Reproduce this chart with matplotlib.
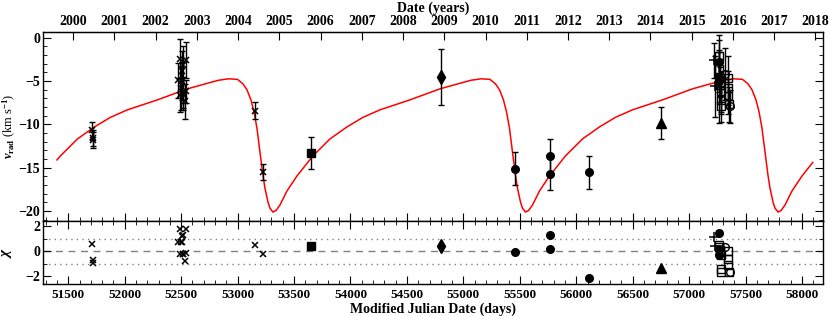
import numpy as np
import matplotlib.pyplot as plt
from matplotlib.ticker import MultipleLocator, FixedLocator

plt.rcParams['font.family'] = ['Liberation Serif', 'DejaVu Serif']
plt.rcParams['font.weight'] = 'bold'
plt.rcParams['mathtext.fontset'] = 'custom'
plt.rcParams['mathtext.rm'] = 'Liberation Serif:bold'
plt.rcParams['mathtext.it'] = 'Liberation Serif:italic:bold'

# orbital model curve (MJD, km/s)
model_mjd = [51400, 51430, 51581, 51732, 51873, 52024, 52290, 52555, 52715, 52830,
             52919, 52998, 53047, 53083, 53118, 53145, 53171, 53198, 53224, 53242,
             53269, 53286, 53313,
             53340, 53375, 53437, 53526, 53667, 53818, 53969, 54110, 54261, 54527,
             54792, 54952, 55067, 55156, 55235, 55284, 55320, 55355, 55382, 55408,
             55435, 55461, 55479, 55506, 55523, 55550,
             55577, 55612, 55674, 55763, 55904, 56055, 56206, 56347, 56498, 56764,
             57029, 57189, 57304, 57393, 57472, 57521, 57557, 57592, 57619, 57645,
             57672, 57698, 57716, 57743, 57760, 57787,
             57814, 57849, 57911, 58000, 58095]
model_v = [-14.10, -13.64, -11.68, -10.29, -9.19, -8.32, -7.17, -5.90, -5.32, -4.91,
           -4.74, -4.80, -5.32, -6.01, -7.17, -8.55, -10.40, -13.18, -15.84, -17.34,
           -18.96, -19.65, -20.12,
           -19.94, -19.31, -17.69, -15.95, -13.64, -11.68, -10.29, -9.19, -8.32, -7.17,
           -5.90, -5.32, -4.91, -4.74, -4.80, -5.32, -6.01, -7.17, -8.55, -10.40,
           -13.18, -15.84, -17.34, -18.96, -19.65, -20.12,
           -19.94, -19.31, -17.69, -15.95, -13.64, -11.68, -10.29, -9.19, -8.32, -7.17,
           -5.90, -5.32, -4.91, -4.74, -4.80, -5.32, -6.01, -7.17, -8.55, -10.40,
           -13.18, -15.84, -17.34, -18.96, -19.65, -20.12,
           -19.94, -19.31, -17.69, -15.95, -14.39]

# crosses
mjd_cross = [51712, 51716, 51720, 52469, 52490, 52490, 52496, 52504, 52510, 52513,
             52518, 52520, 52537, 52543, 52543, 53154, 53228]
v_cross = [-10.7, -11.6, -11.8, -4.9, -2.4, -6.6, -5.8, -5.0, -3.8, -6.5,
           -3.1, -6.45, -7.35, -2.6, -6.2, -8.4, -15.5]
e_cross = [1.0, 0.9, 0.9, 2.0, 2.3, 2.0, 2.5, 2.2, 2.3, 1.6,
           2.2, 1.9, 2.0, 2.1, 1.3, 0.93, 0.95]
r_cross = [0.6, -0.7, -0.9, 0.7, 1.75, -0.2, 0.75, 0.7, 1.2, -0.25,
           1.25, -0.2, -0.8, 1.8, -0.15, 0.5, -0.25]

# filled square
mjd_sq = [53650]
v_sq = [-13.3]
e_sq = [1.9]
r_sq = [0.38]

# filled diamond
mjd_dm = [54800]
v_dm = [-4.55]
e_dm = [3.2]
r_dm = [0.43]

# filled circles
mjd_ci = [55457, 55767, 55767, 56110, 57265, 57266, 57268]
v_ci = [-15.1, -13.6, -15.7, -15.55, -2.8, -4.5, -5.05]
e_ci = [1.9, 1.9, 1.9, 1.9, 1.4, 1.8, 4.8]
r_ci = [-0.05, 1.25, 0.15, -2.15, 1.45, 0.2, -0.33]

# filled triangle
mjd_tr = [56748]
v_tr = [-9.8]
e_tr = [1.85]
r_tr = [-1.3]

# plus signs
mjd_pl = [57223, 57225]
v_pl = [-2.6, -5.6]
e_pl = [2.0, 3.5]
r_pl = [1.13, 0.38]

# open squares
mjd_os = [57262, 57268, 57272, 57276, 57280, 57284, 57286, 57340, 57344, 57348, 57352]
v_os = [-2.1, -3.6, -4.6, -5.4, -6.2, -7.15, -7.85, -4.6, -5.8, -6.75, -7.7]
e_os = [2.4, 2.0, 2.2, 2.0, 2.4, 1.6, 1.9, 2.5, 2.0, 2.0, 2.0]
r_os = [0.5, 0.35, 0.1, -0.1, -0.3, -1.38, -1.63, 0.0, -0.63, -1.08, -1.63]

# open circles
mjd_oc = [57317, 57362]
v_oc = [-4.2, -7.9]
e_oc = [3.0, 1.9]
r_oc = [0.3, -1.68]

years = list(range(2000, 2019))

fig = plt.figure(figsize=(8.3, 3.16), dpi=100)
ax = fig.add_axes([0.0518, 0.3006, 0.9398, 0.5981])
axr = fig.add_axes([0.0518, 0.1013, 0.9398, 0.1993], sharex=ax)

ax.plot(model_mjd, model_v, color='red', lw=1.1, zorder=1)

sets = [
    (mjd_cross, v_cross, e_cross, r_cross, dict(marker='x', ms=5, mew=1.1, mfc='k')),
    (mjd_sq, v_sq, e_sq, r_sq, dict(marker='s', ms=5.5, mfc='k')),
    (mjd_dm, v_dm, e_dm, r_dm, dict(marker='d', ms=7, mfc='k')),
    (mjd_ci, v_ci, e_ci, r_ci, dict(marker='o', ms=5.5, mfc='k')),
    (mjd_tr, v_tr, e_tr, r_tr, dict(marker='^', ms=6.5, mfc='k')),
    (mjd_pl, v_pl, e_pl, r_pl, dict(marker='+', ms=7, mew=1.1)),
    (mjd_os, v_os, e_os, r_os, dict(marker='s', ms=5.5, mfc='none', mew=1.0)),
    (mjd_oc, v_oc, e_oc, r_oc, dict(marker='o', ms=5.5, mfc='none', mew=1.0)),
]
for mjd, v, e, r, st in sets:
    ax.errorbar(mjd, v, yerr=e, fmt='none', ecolor='k', elinewidth=1.0,
                capsize=2.5, capthick=1.0, zorder=2)
    ax.plot(mjd, v, ls='none', color='k', zorder=3, **st)
    axr.plot(mjd, r, ls='none', color='k', zorder=3, **st)

axr.axhline(0, color='grey', lw=1, ls=(0, (5, 4)), zorder=1)
axr.axhline(1, color='grey', lw=1, ls=(0, (1, 3)), zorder=1)
axr.axhline(-1, color='grey', lw=1, ls=(0, (1, 3)), zorder=1)

ax.set_xlim(51276, 58186)
ax.set_ylim(-21.15, 0.66)
axr.set_ylim(-2.6, 2.4)

ax.xaxis.set_major_locator(MultipleLocator(500))
ax.xaxis.set_minor_locator(MultipleLocator(100))
ax.yaxis.set_major_locator(MultipleLocator(5))
ax.yaxis.set_minor_locator(MultipleLocator(1))
axr.yaxis.set_major_locator(MultipleLocator(2))
axr.yaxis.set_minor_locator(MultipleLocator(1))

ax.tick_params(which='both', direction='in', top=False, right=True, labelbottom=False,
               labelsize=10)
ax.tick_params(axis='y', pad=2)
ax.tick_params(which='major', length=6)
ax.tick_params(which='minor', length=3)
axr.tick_params(which='both', direction='in', top=True, right=True, labelsize=9.5)
axr.tick_params(which='major', length=6)
axr.tick_params(which='minor', length=3)
axr.tick_params(axis='y', labelsize=10, pad=2)

# year axis on top
def mjd2yr(m):
    return 2000.0 + (np.asarray(m) - 51544.0) / 365.25

def yr2mjd(y):
    return 51544.0 + (np.asarray(y) - 2000.0) * 365.25

sec = ax.secondary_xaxis('top', functions=(mjd2yr, yr2mjd))
sec.xaxis.set_major_locator(FixedLocator(years))
sec.xaxis.set_major_formatter(plt.FuncFormatter(lambda y, p: '%d' % round(y)))
sec.tick_params(direction='in', length=6, labelsize=10, pad=3)
sec.set_xlabel('Date (years)', fontsize=10, fontweight='bold', labelpad=2)

for a in (ax, axr):
    for lab in a.get_xticklabels() + a.get_yticklabels():
        lab.set_fontweight('bold')
for lab in sec.get_xticklabels():
    lab.set_fontweight('bold')

ax.set_ylabel(r'$\mathit{v}_{\mathrm{rad}}$ (km s$^{-1}$)', fontsize=9)
ax.yaxis.set_label_coords(-0.0325, 0.5)
axr.set_ylabel(r'$\chi$', fontsize=11)
axr.yaxis.set_label_coords(-0.037, 0.5)
axr.set_xlabel('Modified Julian Date (days)', fontsize=10, fontweight='bold', labelpad=1)
for a in (ax, axr):
    for s in a.spines.values():
        s.set_linewidth(1.0)

fig.savefig('out.png', dpi=100)
